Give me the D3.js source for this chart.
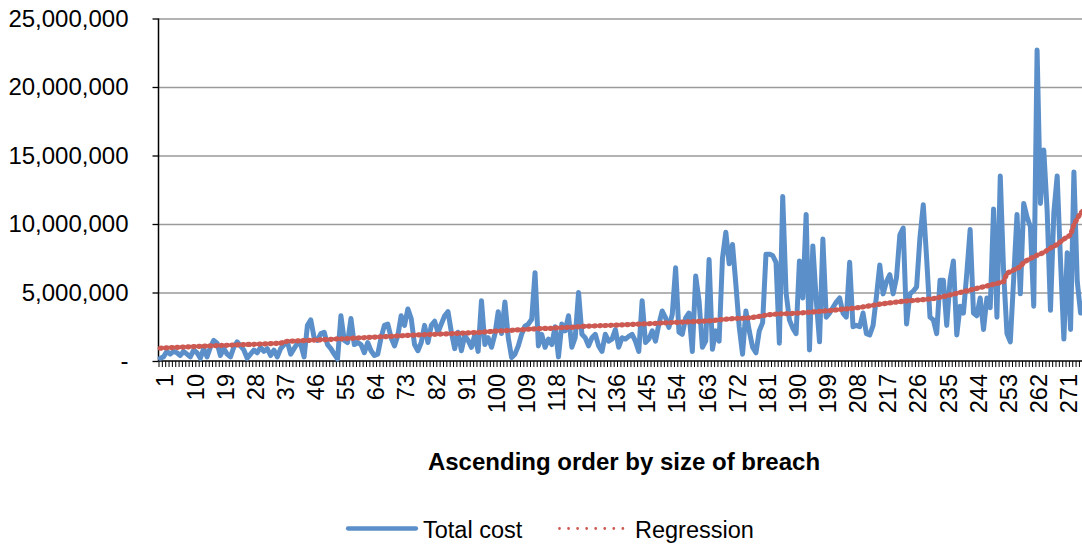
<!DOCTYPE html>
<html><head><meta charset="utf-8">
<script src="https://cdn.jsdelivr.net/npm/d3@7"></script>
<style>
html,body{margin:0;padding:0;background:#fff;}
svg{display:block;font-family:"Liberation Sans",Arial,sans-serif;}
</style></head><body>
<svg id="chart" width="1082" height="544"></svg>
<script>
// ---- data (values in millions) ----
const totalCost = [
 0.2,0.3,0.7,0.5,0.7,0.6,0.4,0.7,0.5,0.3,
 0.8,0.6,0.2,0.9,0.3,1.0,1.5,1.3,0.4,0.9,
 0.5,0.3,1.0,1.4,1.1,0.8,0.2,0.5,0.8,0.6,
 1.0,0.7,0.9,0.4,0.8,0.3,0.9,1.2,1.4,0.5,
 0.9,1.3,1.2,0.3,2.6,3.0,1.7,1.5,2.0,2.1,
 1.2,0.9,0.5,0.15,3.3,1.5,1.35,3.1,1.2,1.35,
 1.2,0.6,1.35,0.75,0.4,0.5,1.7,2.6,2.7,1.7,
 1.1,1.85,3.3,2.6,3.8,3.1,1.2,0.75,1.35,2.6,
 1.35,2.6,2.9,2.1,2.7,3.3,3.6,2.1,0.9,2.1,
 0.75,1.85,1.5,1.0,1.9,0.7,4.4,1.2,1.7,1.0,
 1.95,3.6,2.0,4.3,1.7,0.25,0.5,1.1,1.95,2.55,
 2.7,3.05,6.45,1.1,1.95,1.0,1.6,1.2,2.5,0.3,
 2.7,2.2,3.3,1.0,1.7,5.0,1.95,1.7,1.1,1.7,
 1.95,1.1,0.7,1.95,1.45,1.6,2.3,1.0,1.7,1.6,
 1.8,1.95,1.45,0.7,4.4,1.35,1.6,2.2,1.45,2.7,
 3.65,3.15,2.45,3.4,6.8,2.1,1.95,3.15,3.5,0.7,
 6.2,4.4,1.0,1.45,7.4,0.85,2.2,1.45,7.5,9.4,
 7.1,8.5,5.6,2.5,0.5,3.65,2.2,1.0,0.6,2.2,
 2.8,7.8,7.8,7.7,7.2,1.3,12.0,5.0,3.0,2.4,
 2.0,7.3,4.6,10.7,0.8,8.4,4.5,1.4,8.9,3.2,
 3.5,3.9,4.3,4.6,3.5,3.2,7.2,2.5,2.6,2.5,
 3.5,2.0,1.9,2.6,4.7,7.0,4.9,5.8,6.3,4.9,
 6.1,9.2,9.7,2.7,4.9,5.1,5.4,9.0,11.4,7.5,
 3.2,3.0,2.0,5.9,5.9,2.6,5.9,7.3,1.9,4.0,
 3.5,6.4,9.6,3.5,3.3,4.6,2.3,4.6,3.9,11.1,
 3.2,13.5,6.5,2.0,1.4,6.0,10.7,4.9,11.5,10.5,
 9.8,4.0,22.7,11.5,15.4,11.0,3.7,10.8,13.5,7.3,
 1.6,7.9,2.3,13.8,5.8,3.5,4.2,5.0
];
const regression = [
 0.93,0.95,0.96,0.97,0.98,0.99,1.00,1.01,1.03,1.04,
 1.05,1.06,1.07,1.08,1.09,1.10,1.11,1.12,1.13,1.14,
 1.15,1.16,1.17,1.18,1.19,1.20,1.21,1.21,1.22,1.23,
 1.24,1.25,1.26,1.27,1.28,1.29,1.30,1.38,1.44,1.45,
 1.46,1.47,1.48,1.49,1.50,1.51,1.53,1.54,1.55,1.56,
 1.57,1.58,1.60,1.61,1.62,1.63,1.64,1.65,1.67,1.68,
 1.69,1.70,1.72,1.73,1.74,1.75,1.77,1.78,1.79,1.80,
 1.82,1.83,1.84,1.85,1.87,1.88,1.89,1.90,1.91,1.92,
 1.93,1.94,1.95,1.96,1.97,1.98,1.99,2.00,2.01,2.02,
 2.03,2.04,2.05,2.06,2.07,2.09,2.10,2.12,2.14,2.16,
 2.18,2.19,2.20,2.21,2.23,2.24,2.26,2.27,2.29,2.30,
 2.32,2.33,2.35,2.36,2.37,2.38,2.38,2.39,2.41,2.42,
 2.43,2.44,2.45,2.46,2.48,2.50,2.52,2.53,2.54,2.55,
 2.56,2.57,2.58,2.59,2.60,2.61,2.62,2.63,2.64,2.65,
 2.66,2.67,2.68,2.69,2.70,2.71,2.72,2.73,2.74,2.76,
 2.78,2.79,2.80,2.81,2.82,2.83,2.84,2.85,2.86,2.87,
 2.88,2.89,2.90,2.91,2.93,2.95,2.98,3.01,3.03,3.05,
 3.07,3.09,3.10,3.11,3.12,3.13,3.15,3.18,3.22,3.26,
 3.30,3.35,3.38,3.40,3.42,3.43,3.44,3.45,3.46,3.47,
 3.49,3.50,3.52,3.54,3.56,3.58,3.60,3.62,3.64,3.66,
 3.68,3.70,3.73,3.76,3.79,3.80,3.82,3.85,3.88,3.91,
 3.95,3.99,4.03,4.07,4.11,4.15,4.18,4.21,4.24,4.27,
 4.30,4.33,4.36,4.38,4.40,4.42,4.44,4.46,4.48,4.50,
 4.53,4.56,4.60,4.65,4.70,4.76,4.82,4.88,4.94,5.00,
 5.06,5.12,5.18,5.24,5.30,5.36,5.42,5.48,5.54,5.60,
 5.66,5.72,5.80,6.40,6.52,6.64,6.76,6.88,7.20,7.35,
 7.48,7.60,7.72,7.82,7.92,8.08,8.24,8.38,8.50,8.70,
 8.90,9.05,9.20,9.95,10.40,10.80,11.00,11.20
];
const xTickLabels = ["1","10","19","28","37","46","55","64","73","82","91","100","109","118","127","136","145","154","163","172","181","190","199","208","217","226","235","244","253","262","271"];
const yTickValues = [0,5,10,15,20,25];
const seriesNames = ["Total cost","Regression"];
const xAxisTitle = "Ascending order by size of breach";

// ---- layout ----
const W = 1082, H = 544;
const pLeft = 158.5, pTop = 18.5, pBottom = 361, step = 3.347;
const n = totalCost.length;
const categories = d3.range(1, n + 1);
const blue = "#5B8FC9", red = "#CD5A52";

const x = d3.scaleBand().domain(categories).range([pLeft, pLeft + n * step]).padding(0);
const xc = d => x(d) + x.bandwidth() / 2;
const xb = d3.scaleLinear().domain([0, n]).range([pLeft, pLeft + n * step]);
const y = d3.scaleLinear().domain([0, 25]).range([pBottom, pTop]);

const svg = d3.select("#chart");

// gridlines
const grid = svg.append("g").attr("transform", `translate(${pLeft},0)`)
  .call(d3.axisLeft(y).tickValues(yTickValues.filter(v => v > 0)).tickSize(-(W - pLeft)).tickFormat(""));
grid.select(".domain").remove();
grid.selectAll("line").attr("stroke", "#9a9a9a").attr("stroke-width", 1.4);

// y axis
const fmt = d3.format(",");
const yAx = svg.append("g").attr("transform", `translate(${pLeft},0)`)
  .call(d3.axisLeft(y).tickValues(yTickValues).tickSize(6).tickPadding(24)
    .tickFormat(v => v === 0 ? "-" : fmt(v * 1e6)));
yAx.select(".domain").attr("stroke", "#000").attr("stroke-width", 1.5).attr("d", `M0,${pTop}V${pBottom}`);
yAx.selectAll("line").attr("stroke", "#000").attr("stroke-width", 1.3);
yAx.selectAll("text").attr("font-size", 24).attr("fill", "#000")
  .attr("font-family", '"Liberation Sans",Arial,sans-serif');

// x axis tick marks (category boundaries)
const xTicks = svg.append("g").attr("transform", `translate(0,${pBottom})`)
  .call(d3.axisBottom(xb).tickValues(d3.range(0, n + 1)).tickSize(6).tickFormat(""));
xTicks.select(".domain").attr("stroke", "#000").attr("stroke-width", 1.5).attr("d", `M${pLeft},0H${W}`);
xTicks.selectAll("line").attr("stroke", "#000").attr("stroke-width", 1);

// x axis labels
const xLab = svg.append("g").attr("transform", `translate(0,${pBottom})`)
  .call(d3.axisBottom(x).tickValues(xTickLabels.map(Number)).tickSize(0)
    .tickFormat((d, i) => xTickLabels[i]));
xLab.select(".domain").remove();
xLab.selectAll("text")
  .attr("x", 0).attr("y", 0).attr("dy", "0.35em")
  .attr("text-anchor", "end")
  .attr("transform", "translate(5,13) rotate(-90)")
  .attr("font-size", 23.5).attr("fill", "#000")
  .attr("font-family", '"Liberation Sans",Arial,sans-serif');

// series
const line = d3.line().x((d, i) => xc(categories[i])).y(d => y(d));
svg.append("path").datum(totalCost).attr("d", line)
  .attr("fill", "none").attr("stroke", blue).attr("stroke-width", 5)
  .attr("stroke-linejoin", "round").attr("stroke-linecap", "round");
svg.append("path").datum(regression).attr("d", line)
  .attr("fill", "none").attr("stroke", red).attr("stroke-width", 5.2)
  .attr("stroke-dasharray", "1.2 4.3").attr("stroke-linecap", "round");

// axis title
svg.append("text").attr("x", 624).attr("y", 470).attr("text-anchor", "middle")
  .attr("font-size", 24).attr("font-weight", "bold").attr("fill", "#000").text(xAxisTitle);

// legend
const lg = svg.append("g");
lg.append("line").attr("x1", 348).attr("x2", 416).attr("y1", 528.5).attr("y2", 528.5)
  .attr("stroke", blue).attr("stroke-width", 4.3).attr("stroke-linecap", "round");
lg.append("text").attr("x", 423).attr("y", 538.3).attr("font-size", 23.5).attr("fill", "#000").text(seriesNames[0]);
lg.append("line").attr("x1", 559.5).attr("x2", 623).attr("y1", 528.5).attr("y2", 528.5)
  .attr("stroke", red).attr("stroke-width", 2.8).attr("stroke-dasharray", "0 9.05").attr("stroke-linecap", "round");
lg.append("text").attr("x", 635).attr("y", 538.3).attr("font-size", 23.5).attr("fill", "#000").text(seriesNames[1]);
</script>
</body></html>
